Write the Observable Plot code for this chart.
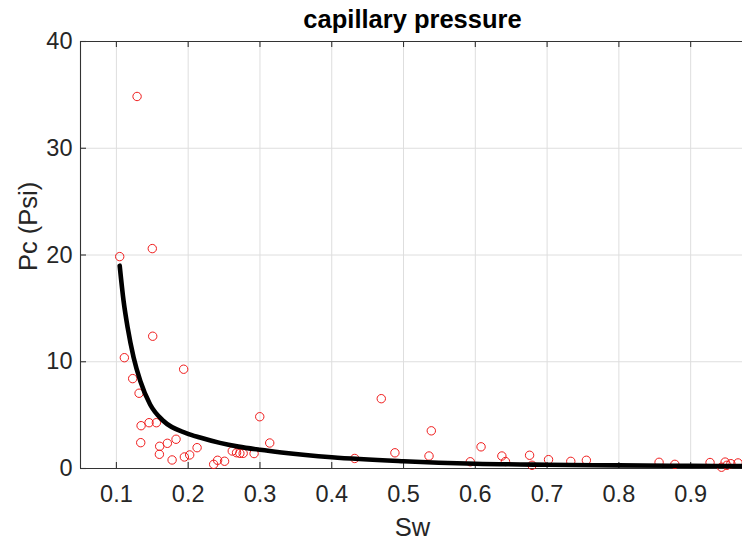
<!DOCTYPE html>
<html>
<head>
<meta charset="utf-8">
<script src="https://cdn.jsdelivr.net/npm/d3@7"></script>
<script src="https://cdn.jsdelivr.net/npm/@observablehq/plot@0.6"></script>
<style>
  html, body { margin: 0; padding: 0; background: #fff; overflow: hidden; }
  #chart { width: 742px; height: 544px; overflow: hidden; }
  #chart svg { max-width: none !important; }
</style>
</head>
<body>
<div id="chart"></div>
<script>
// Measured points (Sw, Pc)
const sw = [0.1288, 0.1046, 0.1500, 0.1506, 0.1111, 0.1937, 0.1227, 0.1316, 0.1344, 0.1455,
            0.1557, 0.1339, 0.1603, 0.1599, 0.1710, 0.1831, 0.1776, 0.1947, 0.2021, 0.2124,
            0.2355, 0.2410, 0.2507, 0.2614, 0.2674, 0.2720, 0.2766, 0.2918, 0.2997, 0.3136,
            0.4320, 0.4690, 0.4880, 0.5355, 0.5387, 0.5930, 0.6080, 0.6370, 0.6420, 0.6756,
            0.6790, 0.7020, 0.7330, 0.7547, 0.8560, 0.8780, 0.9270, 0.9430, 0.9480, 0.9505,
            0.9560, 0.9660];
const pc = [34.85, 19.85, 20.60, 12.39, 10.38, 9.30, 8.42, 7.05, 4.01, 4.29,
            4.29, 2.42, 2.08, 1.33, 2.36, 2.74, 0.80, 1.08, 1.27, 1.95,
            0.39, 0.77, 0.68, 1.64, 1.48, 1.42, 1.42, 1.40, 4.85, 2.39,
            0.94, 6.54, 1.47, 1.17, 3.53, 0.63, 2.03, 1.17, 0.65, 1.24,
            0.30, 0.83, 0.67, 0.77, 0.58, 0.39, 0.56, 0.12, 0.60, 0.30,
            0.45, 0.52];

// Fitted curve
const fitSw = [0.1046, 0.110, 0.1157, 0.124, 0.1333, 0.147, 0.1656, 0.198, 0.2165, 0.2442,
               0.27, 0.30, 0.33, 0.40, 0.50, 0.60, 0.70, 0.80, 0.90, 0.975];
const fitPc = [19.0, 15.7, 13.2, 10.4, 8.2, 6.0, 4.45, 3.3, 2.9, 2.4,
               2.05, 1.75, 1.5, 1.05, 0.68, 0.45, 0.35, 0.29, 0.25, 0.22];

// Axes
const xTicks = [0.1, 0.2, 0.3, 0.4, 0.5, 0.6, 0.7, 0.8, 0.9];
const xTickLabels = ["0.1", "0.2", "0.3", "0.4", "0.5", "0.6", "0.7", "0.8", "0.9"];
const yTicks = [0, 10, 20, 30, 40];
const yTickLabels = ["0", "10", "20", "30", "40"];
const xDomain = [0.05, 0.975];
const yDomain = [0, 40];
const titleText = "capillary pressure";
const xLabel = "Sw";
const yLabel = "Pc (Psi)";

const points = sw.map((s, i) => ({sw: s, pc: pc[i]}));
const fit = fitSw.map((s, i) => ({sw: s, pc: fitPc[i]}));

const W = 760, H = 544, mL = 80, mR = 16, mT = 41, mB = 76;
const frameW = W - mL - mR, frameH = H - mT - mB;
const axisColor = "#333333";
const gridColor = "#dedede";

const chart = Plot.plot({
  width: W,
  height: H,
  marginLeft: mL,
  marginRight: mR,
  marginTop: mT,
  marginBottom: mB,
  style: {fontFamily: "'Liberation Sans', Arial, Helvetica, sans-serif", color: "#262626", background: "#fff", overflow: "visible", maxWidth: "none"},
  x: {domain: xDomain, axis: null},
  y: {domain: yDomain, axis: null},
  marks: [
    Plot.gridX(xTicks, {stroke: gridColor, strokeOpacity: 1, strokeWidth: 1}),
    Plot.gridY(yTicks.filter(d => d > 0 && d < 40), {stroke: gridColor, strokeOpacity: 1, strokeWidth: 1}),
    // box
    Plot.ruleY([yDomain[0], yDomain[1]], {stroke: axisColor, strokeWidth: 1.1}),
    Plot.ruleX([xDomain[0], xDomain[1]], {stroke: axisColor, strokeWidth: 1.1}),
    // inward ticks
    Plot.tickX(xTicks, {x: d => d, insetTop: frameH - 6, stroke: axisColor, strokeWidth: 1.1}),
    Plot.tickX(xTicks, {x: d => d, insetBottom: frameH - 6, stroke: axisColor, strokeWidth: 1.1}),
    Plot.tickY(yTicks, {y: d => d, insetRight: frameW - 6, stroke: axisColor, strokeWidth: 1.1}),
    // tick labels
    Plot.axisX({ticks: xTicks, tickFormat: (d, i) => xTickLabels[i], tickSize: 0, tickPadding: 17, fontSize: 23.5, label: null}),
    Plot.axisY({ticks: yTicks, tickFormat: (d, i) => yTickLabels[i], tickSize: 0, tickPadding: 8, fontSize: 23.5, label: null}),
    // data
    Plot.dot(points, {x: "sw", y: "pc", r: 4.2, fill: "none", stroke: "#f01c1c", strokeWidth: 1}),
    Plot.line(fit, {x: "sw", y: "pc", stroke: "#000", strokeWidth: 4.6, curve: "monotone-x"}),
    // title & labels
    Plot.text([titleText], {frameAnchor: "top", text: d => d, lineAnchor: "bottom", dy: -13.7, fontSize: 25.5, fontWeight: "bold", fill: "#000"}),
    Plot.text([xLabel], {frameAnchor: "bottom", text: d => d, lineAnchor: "bottom", dy: 67, fontSize: 25.5, fill: "#262626"}),
    Plot.text([yLabel], {frameAnchor: "left", text: d => d, lineAnchor: "bottom", rotate: -90, dx: -44, dy: 16, fontSize: 25.5, fill: "#262626"})
  ]
});
document.getElementById("chart").appendChild(chart);
</script>
</body>
</html>
